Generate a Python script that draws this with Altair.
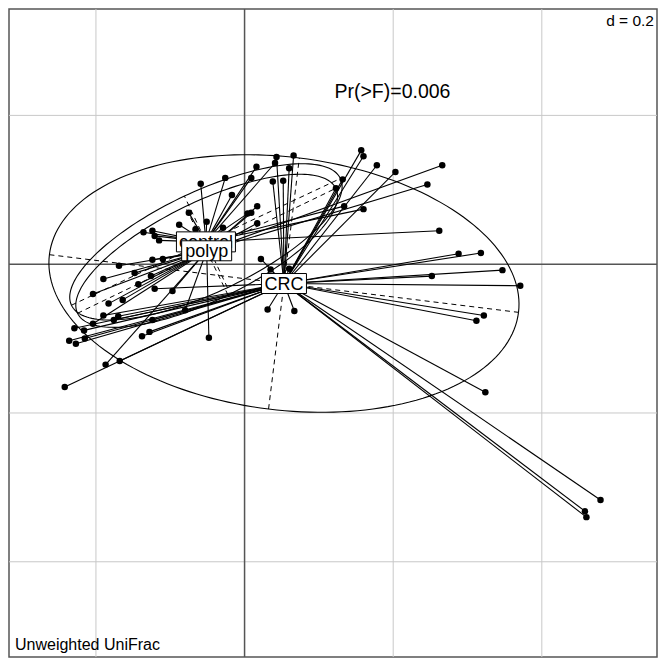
import altair as alt
import numpy as np
import pandas as pd

# ---- group summaries ----
groups = ["control", "polyp", "CRC"]
centroid_x = [-0.052, -0.051, 0.053]
centroid_y = [0.030, 0.018, -0.026]
ell_major = [0.200, 0.193, 0.318]
ell_minor = [0.068, 0.066, 0.170]
ell_angle = [25.2, 25.8, -7.0]
box_w = [59, 50, 45]

# ---- sample coordinates ----
crc_x = [0.479, 0.458, 0.460, 0.324, 0.322, 0.312, 0.371, 0.347, 0.252, 0.318,
         0.288, 0.067, 0.031, 0.157, 0.160, 0.178, 0.203, 0.132, 0.123, 0.066,
         0.043, 0.060, 0.052, 0.038, 0.022, 0.035, 0.060, -0.242, -0.168, -0.121,
         -0.190, -0.170, -0.176, -0.124, -0.229, -0.216, -0.128, -0.138, -0.215,
         -0.236, -0.227]
crc_y = [-0.317, -0.332, -0.340, -0.172, -0.069, -0.076, -0.029, -0.008, -0.016, 0.015,
         0.014, -0.063, -0.061, 0.153, 0.145, 0.133, 0.124, 0.114, 0.102, 0.146,
         0.144, 0.129, 0.112, 0.111, 0.007, -0.007, -0.006, -0.165, -0.130, -0.033,
         -0.069, -0.070, -0.075, -0.075, -0.086, -0.089, -0.091, -0.097, -0.100,
         -0.103, -0.107]
control_x = [0.041, 0.262, 0.134, 0.160, 0.016, 0.009, -0.026, -0.059, -0.017, -0.075,
             -0.051, -0.088, -0.136, -0.124, -0.121, -0.115, -0.066, -0.029, 0.004]
control_y = [0.136, 0.045, 0.078, 0.074, 0.131, 0.116, 0.116, 0.108, 0.093, 0.069,
             0.057, 0.053, 0.043, 0.045, 0.038, 0.032, 0.047, 0.049, 0.068]
polyp_x = [-0.187, 0.266, 0.246, 0.009, 0.017, 0.017, -0.124, -0.110, -0.169, -0.190,
           -0.148, -0.126, -0.204, -0.143, -0.183, -0.164, -0.097, -0.204, -0.080, -0.048]
polyp_y = [-0.135, 0.133, 0.107, 0.069, 0.078, 0.055, 0.006, 0.007, -0.002, -0.020,
           -0.012, -0.016, -0.040, -0.027, -0.053, -0.048, -0.036, -0.080, -0.062, -0.099]

grid_vals_x = [-0.2, 0.2, 0.4]
grid_vals_y = [-0.4, -0.2, 0.2]
stat_text = ["Pr(>F)=0.006"]
stat_x = [0.199]
stat_y = [0.231]

xdom = [-0.317, 0.555]
ydom = [-0.528, 0.343]

# ---- build tables ----
rows = []
for g, xs, ys in [("CRC", crc_x, crc_y), ("control", control_x, control_y), ("polyp", polyp_x, polyp_y)]:
    gi = groups.index(g)
    for a, b in zip(xs, ys):
        rows.append(dict(group=g, x=a, y=b, cx=centroid_x[gi], cy=centroid_y[gi]))
pts = pd.DataFrame(rows)

ell_rows = []
axis_rows = []
t = np.linspace(0, 2 * np.pi, 181)
for i, g in enumerate(groups):
    th = np.deg2rad(ell_angle[i])
    a, b = ell_major[i], ell_minor[i]
    cx, cy = centroid_x[i], centroid_y[i]
    ex = cx + a * np.cos(t) * np.cos(th) - b * np.sin(t) * np.sin(th)
    ey = cy + a * np.cos(t) * np.sin(th) + b * np.sin(t) * np.cos(th)
    for k in range(len(t)):
        ell_rows.append(dict(group=g, x=ex[k], y=ey[k], o=k))
    axis_rows.append(dict(x=cx - a * np.cos(th), y=cy - a * np.sin(th),
                          x2=cx + a * np.cos(th), y2=cy + a * np.sin(th)))
    axis_rows.append(dict(x=cx + b * np.sin(th), y=cy - b * np.cos(th),
                          x2=cx - b * np.sin(th), y2=cy + b * np.cos(th)))
ell = pd.DataFrame(ell_rows)
axes_df = pd.DataFrame(axis_rows)

X = lambda f: alt.X(f, type="quantitative", scale=alt.Scale(domain=xdom, nice=False, zero=False), axis=None)
Y = lambda f: alt.Y(f, type="quantitative", scale=alt.Scale(domain=ydom, nice=False, zero=False), axis=None)

gridx = alt.Chart(pd.DataFrame({"v": grid_vals_x})).mark_rule(color="#c8c8c8", strokeWidth=1).encode(x=X("v"))
gridy = alt.Chart(pd.DataFrame({"v": grid_vals_y})).mark_rule(color="#c8c8c8", strokeWidth=1).encode(y=Y("v"))
zx = alt.Chart(pd.DataFrame({"v": [0.0]})).mark_rule(color="#555555", strokeWidth=1.5).encode(x=X("v"))
zy = alt.Chart(pd.DataFrame({"v": [0.0]})).mark_rule(color="#555555", strokeWidth=1.5).encode(y=Y("v"))

ell_axes = alt.Chart(axes_df).mark_rule(color="black", strokeWidth=1, strokeDash=[5, 4]).encode(
    x=X("x"), y=Y("y"), x2="x2", y2="y2")
ellipses = alt.Chart(ell).mark_line(color="black", strokeWidth=1.1).encode(
    x=X("x"), y=Y("y"), detail="group:N", order="o:Q")
segs = alt.Chart(pts).mark_rule(color="black", strokeWidth=1.1).encode(
    x=X("x"), y=Y("y"), x2="cx", y2="cy")
dots = alt.Chart(pts).mark_circle(color="black", opacity=1, size=42).encode(x=X("x"), y=Y("y"))

layers = [gridx, gridy, zx, zy, ell_axes, ellipses, segs, dots]
for i, g in enumerate(groups):
    d = pd.DataFrame({"x": [centroid_x[i]], "y": [centroid_y[i]], "lab": [g]})
    w = box_w[i]
    box = alt.Chart(d).mark_rect(fill="white", stroke="black", strokeWidth=1,
                                 xOffset=-w / 2, x2Offset=w / 2, yOffset=-10, y2Offset=10).encode(
        x=X("x"), x2="x", y=Y("y"), y2="y")
    txt = alt.Chart(d).mark_text(font="Liberation Sans", fontSize=18, color="black",
                                 align="center", baseline="middle", dy=1).encode(
        x=X("x"), y=Y("y"), text="lab")
    layers += [box, txt]

stat = alt.Chart(pd.DataFrame({"x": stat_x, "y": stat_y, "t": stat_text})).mark_text(
    font="Liberation Sans", fontSize=19.5, color="black", align="center", baseline="middle").encode(
    x=X("x"), y=Y("y"), text="t")
dlab = alt.Chart(pd.DataFrame({"t": ["d = 0.2"]})).mark_text(
    font="Liberation Sans", fontSize=15.5, color="black", align="right", baseline="middle").encode(
    x=alt.value(645), y=alt.value(12), text="t")
sub = alt.Chart(pd.DataFrame({"t": ["Unweighted UniFrac"]})).mark_text(
    font="Liberation Sans", fontSize=16, color="black", align="left", baseline="middle").encode(
    x=alt.value(6), y=alt.value(636), text="t")
layers += [stat, dlab, sub]

chart = alt.layer(*layers).properties(
    width=650, height=650, padding=0,
    autosize=alt.AutoSizeParams(type="fit", contains="padding")
).configure_view(stroke="#555555", strokeWidth=1.5)

chart.save("out.html", embed_options={"renderer": "svg", "actions": False})
